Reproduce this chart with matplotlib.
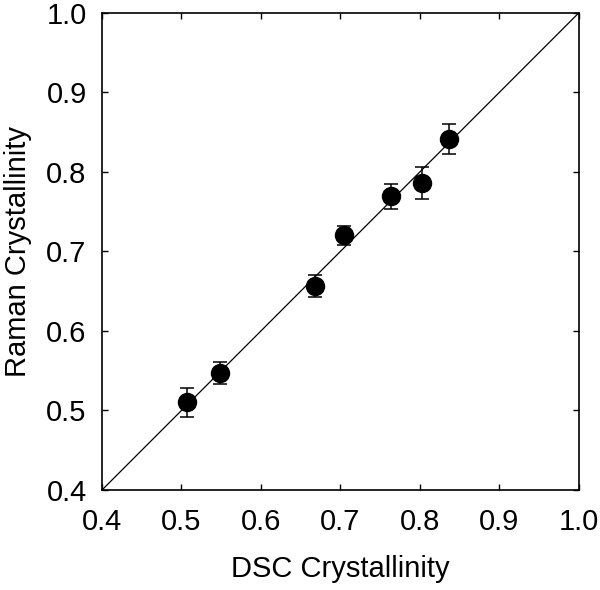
import numpy as np
import matplotlib
matplotlib.use("Agg")
import matplotlib.pyplot as plt

plt.rcParams['font.family'] = ['Liberation Sans', 'DejaVu Sans']

# DSC vs Raman crystallinity
dsc = [0.507, 0.549, 0.668, 0.705, 0.763, 0.802, 0.836]
raman = [0.510, 0.547, 0.656, 0.720, 0.769, 0.786, 0.841]
raman_err = [0.018, 0.014, 0.014, 0.012, 0.016, 0.020, 0.019]
ticks = [0.4, 0.5, 0.6, 0.7, 0.8, 0.9, 1.0]

fig = plt.figure(figsize=(6, 5.9), dpi=100)
ax = fig.add_axes([0.17, 0.1695, 0.795, 0.809])

# 1:1 line
ax.plot([0.4, 1.0], [0.4, 1.0], color='black', linewidth=0.9)

ax.errorbar(dsc, raman, yerr=raman_err, fmt='o', color='black',
            markersize=13, ecolor='black', elinewidth=1.1, capsize=5,
            capthick=1.1, zorder=3)

ax.set_xlim(0.4, 1.0)
ax.set_ylim(0.4, 1.0)
ax.set_xticks(ticks)
ax.set_yticks(ticks)
ax.set_xticklabels(['%.1f' % t for t in ticks])
ax.set_yticklabels(['%.1f' % t for t in ticks])
ax.tick_params(direction='in', length=4, width=1, labelsize=21,
               top=True, right=True)
ax.tick_params(axis='x', pad=13)
ax.tick_params(axis='y', pad=11)
for s in ax.spines.values():
    s.set_linewidth(1.2)

ax.set_xlabel('DSC Crystallinity', fontsize=21, labelpad=14)
ax.set_ylabel('Raman Crystallinity', fontsize=21, labelpad=10)

fig.savefig('out.png', dpi=100)
